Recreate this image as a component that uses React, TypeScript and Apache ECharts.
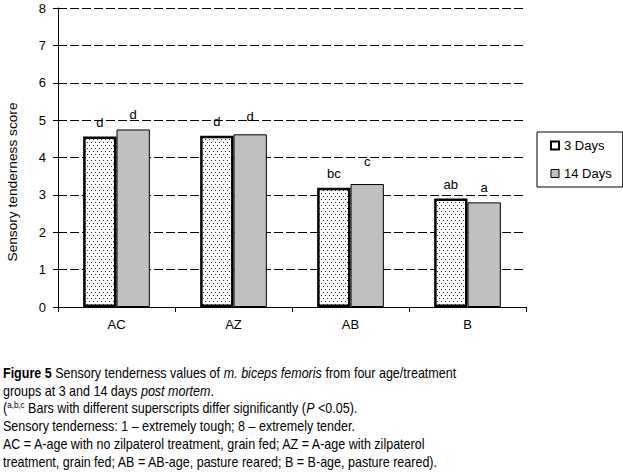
import React, { useEffect, useRef } from "react";
import * as echarts from "echarts";

const categories = ["AC", "AZ", "AB", "B"];
const seriesNames = ["3 Days", "14 Days"];
const days3 = [4.56, 4.58, 3.19, 2.9];
const days14 = [4.75, 4.62, 3.29, 2.8];
const letters3 = ["d", "d", "bc", "ab"];
const letters14 = ["d", "d", "c", "a"];
const yTicks = [0, 1, 2, 3, 4, 5, 6, 7, 8];
const yAxisTitle = "Sensory tenderness score";
const captionLines = [
  "{b|Figure 5} Sensory tenderness values of {i|m. biceps femoris} from four age/treatment",
  "groups at 3 and 14 days {i|post mortem}.",
  "({s|a,b,c} Bars with different superscripts differ significantly ({i|P} <0.05).",
  "Sensory tenderness: 1 \u2013 extremely tough; 8 \u2013 extremely tender.",
  "AC = A-age with no zilpaterol treatment, grain fed; AZ = A-age with zilpaterol",
  "treatment, grain fed; AB = AB-age, pasture reared; B = B-age, pasture reared).",
];

const FONT = "Arial, 'Liberation Sans', sans-serif";

function makeDots(): HTMLCanvasElement {
  const c = document.createElement("canvas");
  c.width = 4;
  c.height = 6;
  const ctx = c.getContext("2d")!;
  ctx.fillStyle = "#ffffff";
  ctx.fillRect(0, 0, 4, 6);
  ctx.fillStyle = "#2a2a2a";
  ctx.fillRect(1, 1, 1, 1);
  ctx.fillRect(3, 4, 1, 1);
  return c;
}

export default function App() {
  const ref = useRef<HTMLDivElement>(null);
  useEffect(() => {
    if (!ref.current) return;
    const chart = echarts.init(ref.current, undefined, { renderer: "svg" });
    const dots = makeDots();
    const capFont = 14;
    const labelStyle = {
      show: true,
      position: "top",
      distance: 8,
      color: "#000",
      textBorderWidth: 0,
      textBorderColor: "transparent",
      fontSize: 13,
      fontFamily: FONT,
    };
    chart.setOption({
      animation: false,
      backgroundColor: "#ffffff",
      textStyle: { fontFamily: FONT },
      grid: { left: 58, right: 97, top: 8, bottom: 165 },
      legend: {
        orient: "vertical",
        left: 537,
        top: 132,
        padding: [7, 11, 7, 13],
        itemGap: 15,
        itemWidth: 8,
        itemHeight: 8,
        borderColor: "#000",
        borderWidth: 1,
        textStyle: { fontFamily: FONT, fontSize: 13, color: "#000" },
        data: [
          { name: seriesNames[0], icon: "rect", itemStyle: { color: "#fff", borderColor: "#000", borderWidth: 2 } },
          { name: seriesNames[1], icon: "rect", itemStyle: { color: "#c0c0c0", borderColor: "#000", borderWidth: 1 } },
        ],
      },
      xAxis: {
        type: "category",
        data: categories,
        axisLine: { lineStyle: { color: "#000", width: 1 } },
        axisTick: { show: true, length: 5, lineStyle: { color: "#000" } },
        axisLabel: { color: "#000", fontSize: 13, fontFamily: FONT, margin: 11 },
      },
      yAxis: {
        type: "value",
        min: yTicks[0],
        max: yTicks[yTicks.length - 1],
        interval: 1,
        axisLine: { show: true, lineStyle: { color: "#000", width: 1 } },
        axisTick: { show: true, length: 5, lineStyle: { color: "#000" } },
        axisLabel: { color: "#000", fontSize: 13, fontFamily: FONT, margin: 12 },
        splitLine: { show: true, lineStyle: { color: "#000", width: 1, type: [9, 3] } },
      },
      series: [
        {
          name: seriesNames[0],
          type: "bar",
          barGap: "0%",
          barCategoryGap: "43%",
          data: days3.map((v, i) => ({
            value: v,
            label: { ...labelStyle, formatter: letters3[i] },
          })),
          itemStyle: {
            color: { image: dots, repeat: "repeat" },
            borderColor: "#000",
            borderWidth: 2.5,
          },
          label: labelStyle,
        },
        {
          name: seriesNames[1],
          type: "bar",
          data: days14.map((v, i) => ({
            value: v,
            label: {
              ...labelStyle,
              formatter: letters14[i],
              offset: i === 2 ? [0, -8] : i === 1 ? [0, -3] : [0, 0],
            },
          })),
          itemStyle: { color: "#c0c0c0", borderColor: "#000", borderWidth: 1 },
          label: labelStyle,
        },
      ],
      graphic: [
        {
          type: "text",
          x: 12,
          y: 182,
          rotation: Math.PI / 2,
          style: {
            text: yAxisTitle,
            fontFamily: FONT,
            fontSize: 13.7,
            fill: "#000",
            align: "center",
            verticalAlign: "middle",
          },
        },
        ...captionLines.map((t, k) => ({
          type: "text",
          x: 3,
          y: 373 + k * 17.8,
          scaleX: 0.895,
          style: {
            text: t,
            fontFamily: FONT,
            fontSize: capFont,
            fill: "#000",
            verticalAlign: "middle",
            rich: {
              b: { fontFamily: FONT, fontSize: capFont, fontWeight: "bold", fill: "#000" },
              i: { fontFamily: FONT, fontSize: capFont, fontStyle: "italic", fill: "#000" },
              s: { fontFamily: FONT, fontSize: 9, fill: "#000", verticalAlign: "top", padding: [0, 0, 8, 0] },
            },
          },
        })),
      ],
    });
    return () => chart.dispose();
  }, []);
  return (
    <div
      ref={ref}
      style={{ position: "fixed", left: 0, top: 0, width: 623, height: 472, background: "#fff" }}
    />
  );
}
